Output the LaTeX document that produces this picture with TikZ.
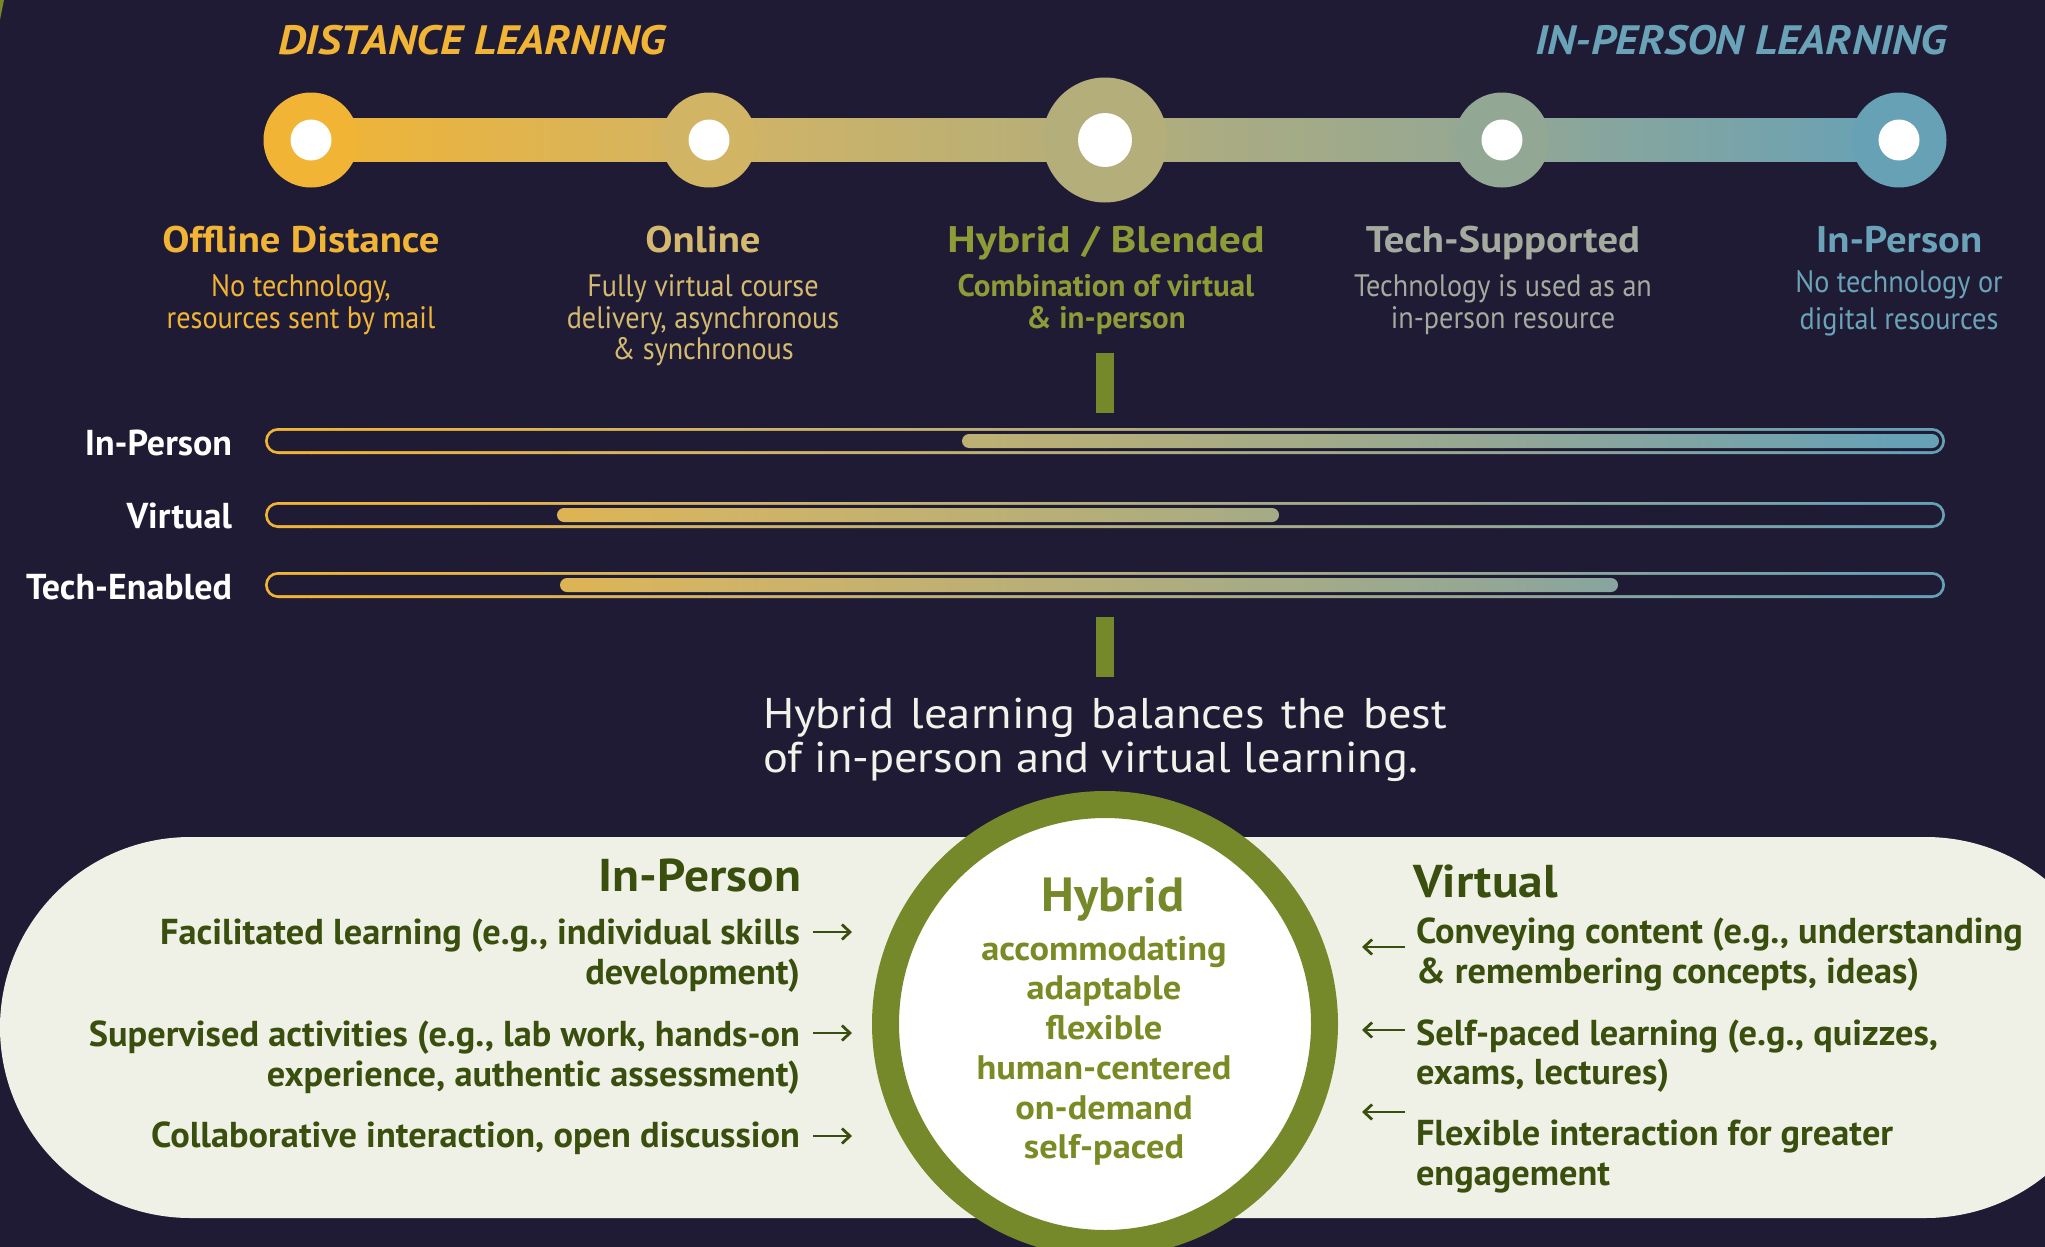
\documentclass[tikz,border=0pt]{standalone}
\usepackage{fontspec}
\setmainfont{PT Sans}
\newfontfamily\headfont{PT Sans}[FakeStretch=1.1]
\newfontfamily\hbfont{PT Sans}[FakeStretch=1.18]
\newfontfamily\subfont{PT Sans}[FakeStretch=0.91]
\newfontfamily\ttlfont{PT Sans}[FakeStretch=1.09]
\newfontfamily\sentfont{PT Sans}[FakeStretch=1.08]
\newfontfamily\itemfont{PT Sans}[FakeStretch=1.01]
\newfontfamily\pheadfont{PT Sans}[FakeStretch=1.075]
\newfontfamily\cwfont{PT Sans}[FakeStretch=1.07]
\newfontfamily\hybfont{PT Sans}[FakeStretch=1.05]
\usetikzlibrary{arrows.meta}
\definecolor{bg}{HTML}{1F1B34}
\definecolor{ca}{HTML}{F1B434}
\definecolor{cb}{HTML}{D2B465}
\definecolor{cc}{HTML}{B3AE7A}
\definecolor{cd}{HTML}{93A795}
\definecolor{ce}{HTML}{67A1B6}
\definecolor{olive}{HTML}{76892A}
\definecolor{hyb}{HTML}{8E9B37}
\definecolor{techc}{HTML}{A4AB9E}
\definecolor{inpc}{HTML}{6AA3B8}
\definecolor{onl}{HTML}{D4BA6E}
\definecolor{panel}{HTML}{EFF1E7}
\definecolor{dgreen}{HTML}{3A4F0E}
\definecolor{cword}{HTML}{7A8B26}
\definecolor{wtext}{HTML}{F2F2EA}
\newcommand\gradband[2]{%
  \fill[ca] (-5,#1) rectangle (311.5,#2);
  \shade[left color=ca,right color=cb] (311,#1) rectangle (709.5,#2);
  \shade[left color=cb,right color=cc] (709,#1) rectangle (1105.5,#2);
  \shade[left color=cc,right color=cd] (1105,#1) rectangle (1502.5,#2);
  \shade[left color=cd,right color=ce] (1502,#1) rectangle (1899.5,#2);
  \fill[ce] (1899,#1) rectangle (2050,#2);
}
\newcommand\track[3]{%
  \begin{scope}
    \clip[rounded corners=13] (265,#1-13) rectangle (1945,#1+13);
    \gradband{#1-20}{#1+20}
  \end{scope}
  \fill[bg, rounded corners=10.2] (267.8,#1-10.2) rectangle (1942.2,#1+10.2);
  \begin{scope}
    \clip[rounded corners=7] (#2,#1-7) rectangle (#3,#1+7);
    \gradband{#1-10}{#1+10}
  \end{scope}
}
\begin{document}
\begin{tikzpicture}[x=1pt,y=-1pt,
  every node/.style={inner sep=0pt, outer sep=0pt},
  dot/.style={circle, minimum size=#1},
  ttl/.style={font=\ttlfont\fontsize{41}{41}\selectfont\bfseries\itshape},
  head/.style={font=\headfont\fontsize{37}{37}\selectfont\bfseries, anchor=base},
  sub/.style={font=\subfont\fontsize{31}{31}\selectfont, anchor=base},
  subb/.style={font=\fontsize{31}{31}\selectfont\bfseries, anchor=base},
  rowlbl/.style={font=\fontsize{36}{36}\selectfont\bfseries, text=white, anchor=base east},
  item/.style={font=\itemfont\fontsize{36}{36}\selectfont\bfseries, text=dgreen},
  phead/.style={font=\pheadfont\fontsize{46}{46}\selectfont\bfseries, text=dgreen},
  cw/.style={font=\cwfont\fontsize{34}{34}\selectfont\bfseries, text=cword, anchor=base},
  sent/.style={font=\sentfont\fontsize{43}{43}\selectfont, text=wtext, anchor=base west},
  vbar/.style={fill=olive, minimum width=18, minimum height=60},
  arr/.style={line width=2.8, draw=dgreen, -{Straight Barb[length=8pt,width=15pt]}}]
\useasboundingbox (0,0) rectangle (2045,1247);
\fill[bg] (0,0) rectangle (2045,1247);
\begin{scope}
\clip (0,0) rectangle (2045,1247);
\fill[olive] (0,0) -- (4,0) -- (0,20) -- cycle;
% titles
\node[ttl, anchor=base west, text=ca] (tdist) at (278,55) {DISTANCE LEARNING};
\node[ttl, anchor=base east, text=inpc] (tinp) at (1947,55) {IN-PERSON LEARNING};
% timeline
\coordinate (t1) at (311,140);
\coordinate (t2) at (709,140);
\coordinate (t3) at (1105,140);
\coordinate (t4) at (1502,140);
\coordinate (t5) at (1899,140);
\shade[left color=ca,right color=cb] ([yshift=21.5]t1) rectangle ([yshift=-21.5]t2);
\shade[left color=cb,right color=cc] ([yshift=21.5]t2) rectangle ([yshift=-21.5]t3);
\shade[left color=cc,right color=cd] ([yshift=21.5]t3) rectangle ([yshift=-21.5]t4);
\shade[left color=cd,right color=ce] ([yshift=21.5]t4) rectangle ([yshift=-21.5]t5);
\node[dot=95, fill=ca] (c1) at (t1) {};
\node[dot=95, fill=cb] (c2) at (t2) {};
\node[dot=125, fill=cc] (c3) at (t3) {};
\node[dot=95, fill=cd] (c4) at (t4) {};
\node[dot=95, fill=ce] (c5) at (t5) {};
\node[dot=41, fill=white] (h1) at (t1) {};
\node[dot=41, fill=white] (h2) at (t2) {};
\node[dot=54, fill=white] (h3) at (t3) {};
\node[dot=41, fill=white] (h4) at (t4) {};
\node[dot=41, fill=white] (h5) at (t5) {};
% column labels
\node[head, text=ca] (l1) at (301,252) {Offline Distance};
\node[sub, text=ca] (l1a) at (301,296) {No technology,};
\node[sub, text=ca] (l1b) at (301,328) {resources sent by mail};
\node[head, text=onl] (l2) at (703,252) {Online};
\node[sub, text=onl] (l2a) at (703,296) {Fully virtual course};
\node[sub, text=onl] (l2b) at (703,328) {delivery, asynchronous};
\node[sub, text=onl] (l2c) at (703,359) {\& synchronous};
\node[head, font=\hbfont\fontsize{37}{37}\selectfont\bfseries, text=hyb] (l3) at (1106,252) {Hybrid / Blended};
\node[subb, text=hyb] (l3a) at (1106,296) {Combination of virtual};
\node[subb, text=hyb] (l3b) at (1106,328) {\& in-person};
\node[head, text=techc] (l4) at (1503,252) {Tech-Supported};
\node[sub, text=techc] (l4a) at (1503,296) {Technology is used as an};
\node[sub, text=techc] (l4b) at (1503,328) {in-person resource};
\node[head, text=inpc] (l5) at (1899,252) {In-Person};
\node[sub, text=inpc] (l5a) at (1899,292) {No technology or};
\node[sub, text=inpc] (l5b) at (1899,329) {digital resources};
\node[vbar] (vb1) at (1105,383) {};
% tracks
\node[rowlbl] (r1) at (232,455) {In-Person};
\node[rowlbl] (r2) at (232,528) {Virtual};
\node[rowlbl] (r3) at (232,599) {Tech-Enabled};
\track{441}{962}{1939}
\track{515}{557}{1279}
\track{585}{560}{1618}
\node[vbar] (vb2) at (1105,647) {};
% sentence
\node[sent] (hs1) at (763,728) {\makebox[684pt][s]{Hybrid learning balances the best}};
\node[sent] (hs2) at (763,772) {\makebox[655pt][s]{of in-person and virtual learning.}};
% panel
\fill[panel, rounded corners=190.5] (0,837) rectangle (2116,1218);
\node[circle, draw=olive, line width=27, fill=white, minimum size=439] (hub) at (1105,1024) {};
\node[font=\hybfont\fontsize{48}{48}\selectfont\bfseries, text=olive, anchor=base] (hyt) at (1113,911) {Hybrid};
\node[cw] (q1) at (1104,960) {accommodating};
\node[cw] (q2) at (1104,999) {adaptable};
\node[cw] (q3) at (1104,1039) {flexible};
\node[cw] (q4) at (1104,1079) {human-centered};
\node[cw] (q5) at (1104,1119) {on-demand};
\node[cw] (q6) at (1104,1158) {self-paced};
% in-person side
\node[phead, anchor=base east] (iph) at (801,891) {In-Person};
\node[item, anchor=base east] (f1) at (800,944) {Facilitated learning (e.g., individual skills};
\node[item, anchor=base east] (f2) at (800,984) {development)};
\node[item, anchor=base east] (s1) at (800,1046) {Supervised activities (e.g., lab work, hands-on};
\node[item, anchor=base east] (s2) at (800,1086) {experience, authentic assessment)};
\node[item, anchor=base east] (k1) at (800,1147) {Collaborative interaction, open discussion};
\draw[arr] ([xshift=13,yshift=12]f1.base east) -- ++(39,0);
\draw[arr] ([xshift=13,yshift=13]s1.base east) -- ++(39,0);
\draw[arr] ([xshift=13,yshift=11]k1.base east) -- ++(39,0);
% virtual side
\node[phead, anchor=base west] (vh) at (1413,897) {Virtual};
\node[item, anchor=base west] (v1) at (1416,943) {Conveying content (e.g., understanding};
\node[item, anchor=base west] (v2) at (1416,983) {\& remembering concepts, ideas)};
\node[item, anchor=base west] (v3) at (1416,1045) {Self-paced learning (e.g., quizzes,};
\node[item, anchor=base west] (v4) at (1416,1084) {exams, lectures)};
\node[item, anchor=base west] (v5) at (1416,1145) {Flexible interaction for greater};
\node[item, anchor=base west] (v6) at (1416,1185) {engagement};
\draw[arr] ([xshift=-11,yshift=-4]v1.base west) -- ++(-43,0);
\draw[arr] ([xshift=-11,yshift=15]v3.base west) -- ++(-43,0);
\draw[arr] ([xshift=-11,yshift=33]v5.base west) -- ++(-43,0);
\end{scope}
\end{tikzpicture}
\end{document}
